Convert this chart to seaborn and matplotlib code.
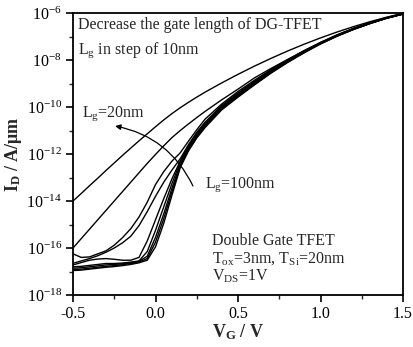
import numpy as np
import pandas as pd
import matplotlib
matplotlib.use("Agg")
import matplotlib.pyplot as plt
import seaborn as sns
from matplotlib.ticker import FixedLocator, NullFormatter, FixedFormatter

# ---------------- data (log10 of drain current, A/um) ----------------
vg = [-0.50, -0.45, -0.40, -0.35, -0.30, -0.25, -0.20, -0.15, -0.10, -0.05,
      0.00, 0.05, 0.10, 0.15, 0.20, 0.25, 0.30, 0.40, 0.50, 0.60,
      0.70, 0.80, 0.90, 1.00, 1.10, 1.20, 1.30, 1.40, 1.50]

log_id_lg20 = [-14.00, -13.68, -13.35, -13.03, -12.70, -12.38, -12.06, -11.75, -11.44, -11.14,
               -10.84, -10.55, -10.28, -10.03, -9.80, -9.58, -9.37, -8.98, -8.61, -8.26,
               -7.93, -7.62, -7.33, -7.06, -6.81, -6.58, -6.37, -6.18, -6.01]
log_id_lg30 = [-16.00, -15.60, -15.20, -14.80, -14.40, -14.00, -13.60, -13.20, -12.80, -12.40,
               -12.02, -11.65, -11.30, -11.00, -10.72, -10.45, -10.19, -9.70, -9.24, -8.76,
               -8.36, -7.98, -7.62, -7.29, -6.98, -6.70, -6.45, -6.23, -6.04]
log_id_lg40 = [-16.25, -16.40, -16.38, -16.25, -16.12, -15.88, -15.56, -15.18, -14.68, -14.05,
               -13.30, -12.75, -12.30, -11.95, -11.45, -10.97, -10.52, -9.88, -9.34, -8.86,
               -8.41, -7.99, -7.60, -7.25, -6.93, -6.65, -6.41, -6.20, -6.03]
log_id_lg50 = [-16.65, -16.55, -16.45, -16.33, -16.18, -16.00, -15.78, -15.50, -15.05, -14.45,
               -13.80, -13.20, -12.68, -12.20, -11.60, -11.08, -10.65, -9.94, -9.40, -8.91,
               -8.44, -8.01, -7.62, -7.26, -6.94, -6.66, -6.42, -6.21, -6.04]
log_id_lg60 = [-16.72, -16.62, -16.52, -16.47, -16.45, -16.48, -16.52, -16.52, -16.40, -15.70,
               -14.80, -13.90, -13.05, -12.30, -11.66, -11.14, -10.71, -9.99, -9.44, -8.94,
               -8.47, -8.03, -7.64, -7.28, -6.95, -6.67, -6.43, -6.21, -6.04]
log_id_lg70 = [-16.80, -16.78, -16.74, -16.70, -16.66, -16.66, -16.64, -16.60, -16.55, -16.15,
               -15.25, -14.25, -13.25, -12.35, -11.70, -11.18, -10.75, -10.02, -9.47, -8.97,
               -8.49, -8.05, -7.65, -7.29, -6.96, -6.68, -6.43, -6.21, -6.04]
log_id_lg80 = [-16.86, -16.84, -16.80, -16.76, -16.72, -16.70, -16.67, -16.63, -16.57, -16.35,
               -15.55, -14.55, -13.45, -12.45, -11.76, -11.23, -10.80, -10.06, -9.51, -9.00,
               -8.52, -8.07, -7.67, -7.30, -6.97, -6.69, -6.44, -6.22, -6.04]
log_id_lg90 = [-16.92, -16.90, -16.86, -16.82, -16.78, -16.75, -16.71, -16.66, -16.60, -16.45,
               -15.75, -14.75, -13.60, -12.52, -11.82, -11.28, -10.84, -10.10, -9.55, -9.03,
               -8.54, -8.09, -7.68, -7.31, -6.98, -6.69, -6.44, -6.22, -6.04]
log_id_lg100 = [-16.96, -16.94, -16.90, -16.86, -16.82, -16.79, -16.75, -16.70, -16.63, -16.52,
                -15.95, -14.95, -13.75, -12.58, -11.87, -11.32, -10.88, -10.13, -9.58, -9.06,
                -8.56, -8.11, -7.70, -7.32, -6.99, -6.70, -6.45, -6.22, -6.05]

gate_lengths = [20, 30, 40, 50, 60, 70, 80, 90, 100]
series = [log_id_lg20, log_id_lg30, log_id_lg40, log_id_lg50, log_id_lg60,
          log_id_lg70, log_id_lg80, log_id_lg90, log_id_lg100]

x_ticks = [-0.5, 0.0, 0.5, 1.0, 1.5]
x_tick_labels = ["-0.5", "0.0", "0.5", "1.0", "1.5"]
y_major_exp = [-18, -16, -14, -12, -10, -8, -6]
y_minor_exp = [-17, -15, -13, -11, -9, -7]

frames = []
for lg, s in zip(gate_lengths, series):
    frames.append(pd.DataFrame({"VG": vg, "ID": np.power(10.0, s), "Lg": lg}))
df = pd.concat(frames, ignore_index=True)

# ---------------- style ----------------
sns.set_style("ticks")
plt.rcParams["font.family"] = ["Liberation Serif", "DejaVu Serif"]
plt.rcParams["mathtext.fontset"] = "custom"
plt.rcParams["mathtext.rm"] = "Liberation Serif"
plt.rcParams["mathtext.it"] = "Liberation Serif:italic"
plt.rcParams["mathtext.bf"] = "Liberation Serif:bold"
plt.rcParams["axes.unicode_minus"] = False

fig = plt.figure(figsize=(4.13, 3.47), dpi=100)
ax = fig.add_axes([73 / 413, 1 - 295 / 347, 330 / 413, 282 / 347])

sns.lineplot(data=df, x="VG", y="ID", hue="Lg", palette=["black"] * 9,
             legend=False, ax=ax, linewidth=1.0, estimator=None, sort=False)

ax.set_yscale("log")
ax.set_xlim(-0.5, 1.5)
ax.set_ylim(1e-18, 1e-6)

ax.xaxis.set_major_locator(FixedLocator(x_ticks))
ax.xaxis.set_major_formatter(FixedFormatter(x_tick_labels))
ax.xaxis.set_minor_locator(FixedLocator([-0.25, 0.25, 0.75, 1.25]))
ax.yaxis.set_major_locator(FixedLocator([10.0 ** e for e in y_major_exp]))
ax.yaxis.set_major_formatter(FixedFormatter([r"$10^{%d}$" % e for e in y_major_exp]))
ax.yaxis.set_minor_locator(FixedLocator([10.0 ** e for e in y_minor_exp]))
ax.yaxis.set_minor_formatter(NullFormatter())

ax.tick_params(which="major", direction="out", length=5, width=1.2,
               labelsize=11.5, colors="black", pad=3)
ax.tick_params(which="minor", direction="out", length=3, width=1.0)
for sp in ax.spines.values():
    sp.set_linewidth(1.3)
    sp.set_color("black")

ax.set_xlabel(r"$\mathbf{V_G}$ / V", fontsize=13, fontweight="bold", labelpad=0)
ax.set_ylabel(r"$\mathbf{I_D}$ / A/μm", fontsize=13, fontweight="bold", labelpad=2)

fs = 11.5
ax.text(-0.47, 10 ** -6.5, "Decrease the gate length of DG-TFET", fontsize=fs, va="center")
ax.text(-0.47, 10 ** -7.6, r"L$_\mathregular{g}$ in step of 10nm", fontsize=fs, va="center")
ax.text(-0.445, 10 ** -10.3, r"L$_\mathregular{g}$=20nm", fontsize=fs, va="center")
ax.text(0.30, 10 ** -13.3, r"L$_\mathregular{g}$=100nm", fontsize=fs, va="center")
ax.text(0.342, 10 ** -15.72, "Double Gate TFET", fontsize=fs, va="center")
ax.text(0.342, 10 ** -16.45, r"T$_\mathregular{ox}$=3nm, T$_\mathregular{Si}$=20nm", fontsize=fs, va="center")
ax.text(0.342, 10 ** -17.2, r"V$_\mathregular{DS}$=1V", fontsize=fs, va="center")

ax.annotate("", xy=(-0.245, 10 ** -10.81), xytext=(0.227, 10 ** -13.36),
            arrowprops=dict(arrowstyle="-|>", color="black", lw=0.9,
                            mutation_scale=8, connectionstyle="arc3,rad=0.25",
                            shrinkA=0, shrinkB=0))

fig.savefig("out.png", dpi=100)
